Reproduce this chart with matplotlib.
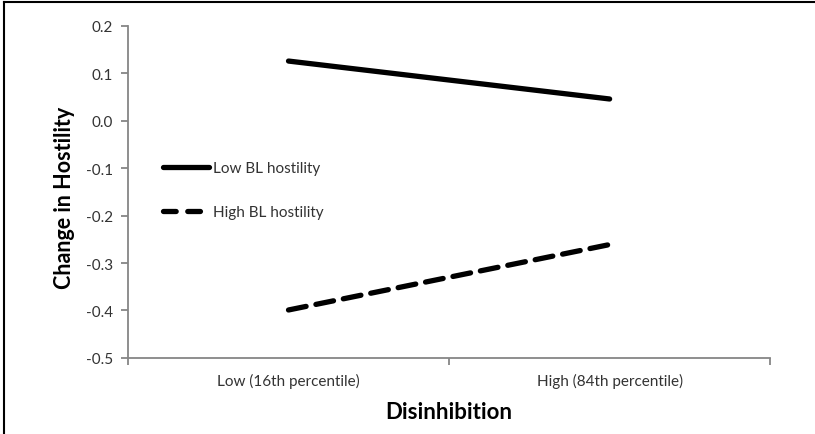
import matplotlib
matplotlib.use("Agg")
import matplotlib.pyplot as plt
from matplotlib.lines import Line2D

plt.rcParams['font.family'] = ['Lato', 'DejaVu Sans']

categories = ["Low (16th percentile)", "High (84th percentile)"]
low_bl = [0.126, 0.046]
high_bl = [-0.399, -0.261]
series_names = ["Low BL hostility", "High BL hostility"]
yticks = [0.2, 0.1, 0.0, -0.1, -0.2, -0.3, -0.4, -0.5]

fig = plt.figure(figsize=(8.15, 4.35), dpi=100)
ax = fig.add_axes([0.157, 0.175, 0.788, 0.763])

xpos = [0.5, 1.5]
ax.plot(xpos, low_bl, color='black', lw=3.8, solid_capstyle='round', label=series_names[0])
ax.plot(xpos, high_bl, color='black', lw=3.8, dashes=(3.4, 1.9), dash_capstyle='round', label=series_names[1])

ax.set_xlim(0, 2)
ax.set_ylim(-0.5, 0.2)
ax.set_yticks(yticks)
ax.set_yticklabels([f"{v:.1f}" for v in yticks])
ax.set_xticks([0, 1, 2])
ax.set_xticklabels([])
ax.set_xticks(xpos, minor=True)
ax.set_xticklabels(categories, minor=True)
ax.tick_params(axis='x', which='minor', length=0, pad=11, labelsize=11, colors='#333333')
ax.tick_params(axis='x', which='major', length=5, width=1.3, color='#868686', direction='out')
ax.tick_params(axis='y', length=5, width=1.3, color='#868686', labelsize=11, labelcolor='#333333', pad=6)

for s in ['top', 'right']:
    ax.spines[s].set_visible(False)
for s in ['left', 'bottom']:
    ax.spines[s].set_color('#868686')
    ax.spines[s].set_linewidth(1.3)

ax.set_ylabel("Change in Hostility", fontsize=15.5, fontweight='bold')
ax.yaxis.set_label_coords(-0.083, 0.485)
ax.set_xlabel("Disinhibition", fontsize=16, fontweight='bold', labelpad=9)

handles = [Line2D([], [], color='black', lw=3.8, solid_capstyle='round'),
           Line2D([], [], color='black', lw=3.8, dashes=(2.4, 2.2), dash_capstyle='round')]
leg = ax.legend(handles, series_names, loc='upper left', bbox_to_anchor=(0.045, 0.612),
                frameon=False, fontsize=11, handlelength=3.0, handletextpad=0.3,
                labelspacing=2.0, borderaxespad=0)
for t in leg.get_texts():
    t.set_color('#333333')

# outer border (left and top visible)
fig.add_artist(Line2D([0.005, 0.005], [0, 0.993], transform=fig.transFigure, color='black', lw=1.5))
fig.add_artist(Line2D([0.005, 1.0], [0.993, 0.993], transform=fig.transFigure, color='black', lw=1.5))

fig.savefig("out.png", dpi=100)
